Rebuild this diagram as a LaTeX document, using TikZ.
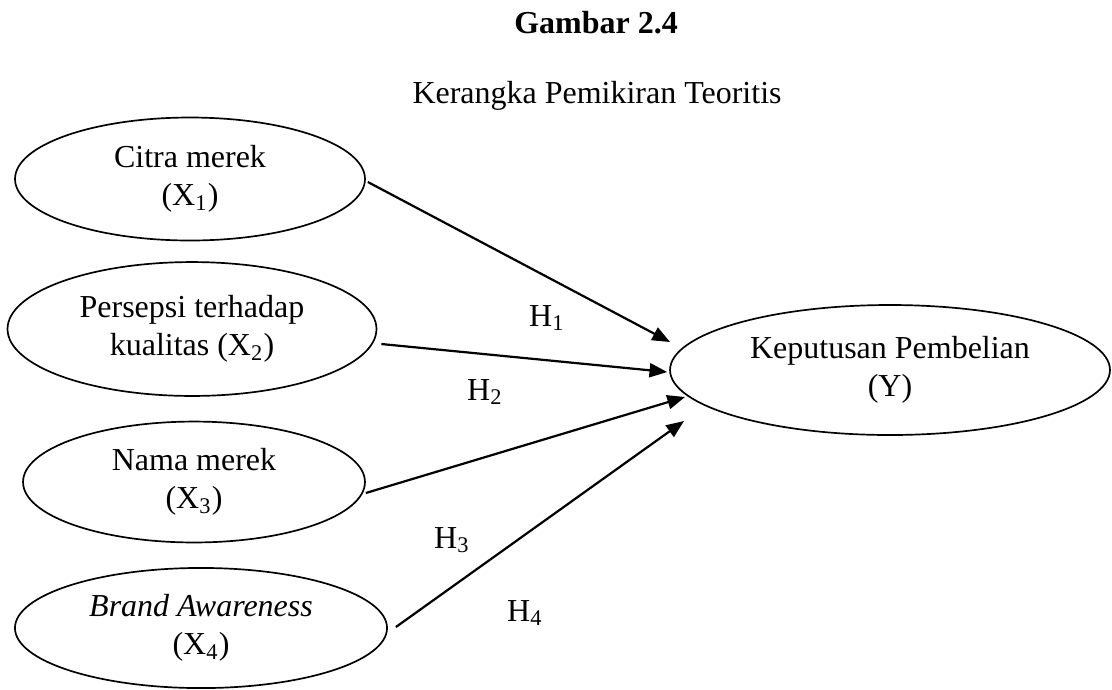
\documentclass[tikz,border=0pt]{standalone}
\usepackage{fontspec}
\setmainfont{Liberation Serif}
\usetikzlibrary{shapes.geometric,arrows.meta}
\tikzset{
  var/.style={draw, ellipse, line width=0.65pt, inner sep=0pt, align=center,
    font=\fontsize{12.3}{14.8}\selectfont},
  link/.style={line width=0.85pt, -{Triangle[length=6.8pt,width=5.4pt]}},
  hlab/.style={font=\fontsize{12.3}{14}\selectfont, inner sep=0pt},
}
\begin{document}
\begin{tikzpicture}[x=0.3846pt, y=-0.3846pt]
\useasboundingbox (0,0) rectangle (1112,689);
\node[font=\fontsize{12.3}{14}\selectfont\bfseries] (title) at (596,23) {Gambar 2.4};
\node[font=\fontsize{12.3}{14}\selectfont] (sub) at (597,96) {Kerangka Pemikiran Teoritis};

\node[var, minimum width=134.6pt, minimum height=47.3pt] (E1) at (190,179) {Citra merek\\(X\textsubscript{1})};
\node[var, minimum width=141.9pt, minimum height=51.5pt] (E2) at (192,329) {Persepsi terhadap\\kualitas (X\textsubscript{2})};
\node[var, minimum width=131.5pt, minimum height=46.5pt] (E3) at (194,482) {Nama merek\\(X\textsubscript{3})};
\node[var, minimum width=143.1pt, minimum height=46.2pt] (E4) at (201,628) {\textit{Brand Awareness}\\(X\textsubscript{4})};
\node[var, minimum width=169.2pt, minimum height=50pt] (Y) at (890,370) {Keputusan Pembelian\\(Y)};

\coordinate (t1) at (670,342);
\coordinate (t3) at (685,397);
\coordinate (t4) at (684,421);

\draw[link] ([shift={(2,3)}]E1.east) -- (t1);
\draw[link] ([shift={(4,15)}]E2.east) -- ([shift={(-2,2)}]Y.west);
\draw[link] ([shift={(0,11)}]E3.east) -- (t3);
\draw[link] ([shift={(8,-1)}]E4.east) -- (t4);

\node[hlab] (h1) at (547,318) {H\textsubscript{1}};
\node[hlab] (h2) at (485,392) {H\textsubscript{2}};
\node[hlab] (h3) at (452,540) {H\textsubscript{3}};
\node[hlab] (h4) at (525,613) {H\textsubscript{4}};
\end{tikzpicture}
\end{document}
